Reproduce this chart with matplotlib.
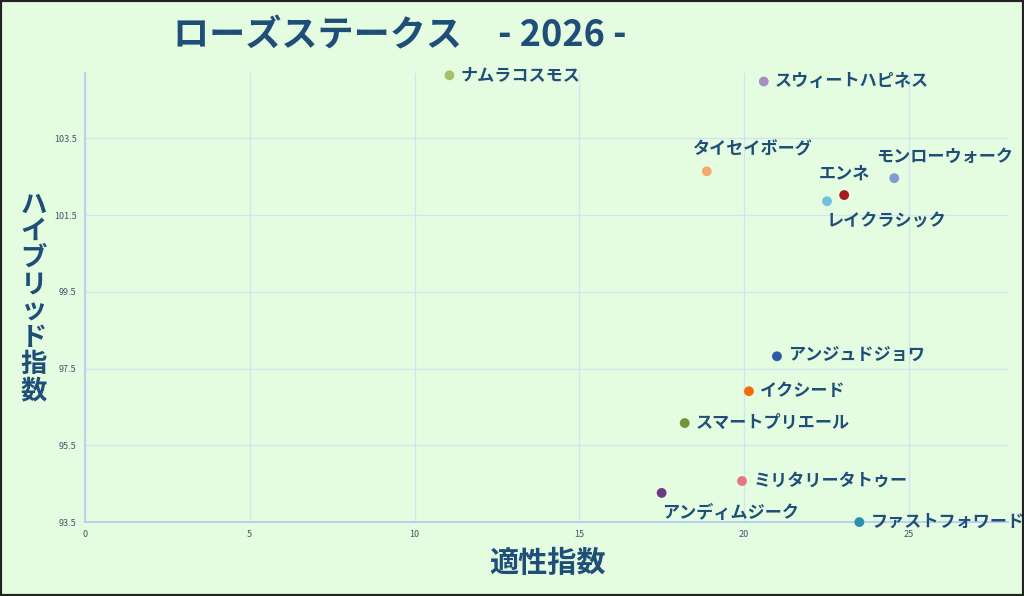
import matplotlib
matplotlib.use("Agg")
import matplotlib.pyplot as plt
from matplotlib.patches import Rectangle

plt.rcParams['font.family'] = ['Noto Sans CJK JP', 'DejaVu Sans']

# data
horses = ['ナムラコスモス', 'スウィートハピネス', 'タイセイボーグ', 'エンネ',
          'モンローウォーク', 'レイクラシック', 'アンジュドジョワ', 'イクシード',
          'スマートプリエール', 'ミリタリータトゥー', 'アンディムジーク', 'ファストフォワード']
tekisei = [11.06, 20.6, 18.87, 23.04, 24.56, 22.52, 21.0, 20.15, 18.2, 19.94, 17.5, 23.5]
hybrid = [105.14, 104.98, 102.64, 102.02, 102.46, 101.86, 97.82, 96.91, 96.08, 94.57, 94.26, 93.5]
colors = ['#a9bf6e', '#a88ec1', '#f9a86d', '#a51c1c', '#7f9bd1', '#72c0df',
          '#2e5aa8', '#f26b0f', '#76933c', '#e07a80', '#6b3a7f', '#2b8fb0']
where = ['right', 'right', 'above', 'above', 'above', 'below',
         'right', 'right', 'right', 'right', 'below', 'right']

xticks = [0, 5, 10, 15, 20, 25]
yticks = [93.5, 95.5, 97.5, 99.5, 101.5, 103.5]

bg = '#e4fde1'
navy = '#1f4e79'

fig = plt.figure(figsize=(10.24, 5.96), dpi=100, facecolor=bg)
ax = fig.add_axes([0.083, 0.124, 0.901, 0.7535])
ax.set_facecolor(bg)

ax.scatter(tekisei, hybrid, s=50, c=colors, zorder=3, edgecolors='none', clip_on=False)

offsets = {'right': ((8, 0), 'left', 'center'),
           'above': ((-10, 9), 'left', 'bottom'),
           'below': ((0, -8), 'left', 'top')}
for name, x, y, w in zip(horses, tekisei, hybrid, where):
    off, ha, va = offsets[w]
    if name == 'エンネ':
        off, ha = (0, 9), 'center'
    if name == 'モンローウォーク':
        off = (-13, 9)
    ax.annotate(name, (x, y), xytext=off, textcoords='offset points',
                ha=ha, va=va, fontsize=12.3, fontweight='bold', color=navy, zorder=4)

ax.set_xlim(0, 28)
ax.set_ylim(93.5, 105.2)
ax.set_xticks(xticks)
ax.set_yticks(yticks)
ax.set_xticklabels([str(t) for t in xticks])
ax.set_yticklabels([str(t) for t in yticks])
ax.tick_params(length=0, labelsize=6.5, labelcolor='#44546a', pad=6)
ax.grid(True, color='#d3e3f5', linewidth=0.9)
ax.set_axisbelow(True)
for s in ['top', 'right']:
    ax.spines[s].set_visible(False)
for s in ['left', 'bottom']:
    ax.spines[s].set_color('#b9d0ee')
    ax.spines[s].set_linewidth(1.5)

fig.text(0.39, 0.94, 'ローズステークス　- 2026 -', ha='center', va='center',
         fontsize=26, fontweight='bold', color=navy)
fig.text(0.535, 0.055, '適性指数', ha='center', va='center',
         fontsize=21, fontweight='bold', color=navy)
fig.text(0.033, 0.50, '\n'.join('ハイブリッド指数'), ha='center', va='center',
         fontsize=19, fontweight='bold', color=navy, linespacing=0.98)

fig.patches.append(Rectangle((0, 0), 1, 1, transform=fig.transFigure, fill=False,
                             edgecolor='#222222', linewidth=3))

fig.savefig('out.png', dpi=100, facecolor=bg)
